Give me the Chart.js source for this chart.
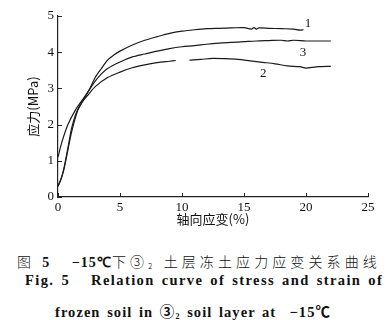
<!DOCTYPE html>
<html>
<head>
<meta charset="utf-8">
<script src="https://cdn.jsdelivr.net/npm/chart.js@4"></script>
<style>
  html, body { margin: 0; padding: 0; background: #fff; }
  #wrap { position: relative; width: 390px; height: 336px; overflow: hidden; }
  #chartBox { position: absolute; left: 0; top: 0; width: 390px; height: 230px; }
  .cap { position: absolute; left: 0; width: 390px; white-space: nowrap; color: #111;
         font-family: "Liberation Serif", "Noto Sans CJK SC", serif; }
  #cap1 { top: 251px; left: 17px; font-size: 14px; letter-spacing: 4.1px; font-family: "Noto Sans CJK SC", sans-serif; font-weight: 300; }
  #cap2 { top: 272px; left: 25px; font-size: 14.5px; font-weight: bold; letter-spacing: 1.4px; word-spacing: 2px; }
  #cap3 { top: 300px; left: 55px; font-size: 14.5px; font-weight: bold; letter-spacing: 1.05px; word-spacing: 2px; }
  b.n { font-family: "Liberation Serif", serif; font-weight: bold; letter-spacing: 1px; }
  sub { font-size: 8px; vertical-align: -2px; }
</style>
</head>
<body>
<div id="wrap">
  <div id="chartBox"><canvas id="chart" width="390" height="230"></canvas></div>
  <div class="cap" id="cap1">图 <b class="n">5</b>&nbsp;&nbsp;&nbsp;<b class="n">−15℃</b>下③<sub>2</sub> 土层冻土应力应变关系曲线</div>
  <div class="cap" id="cap2">Fig. 5&nbsp;&nbsp;&nbsp;Relation curve of stress and strain of</div>
  <div class="cap" id="cap3">frozen soil in ③<sub>2</sub> soil layer at &nbsp;−15℃</div>
</div>
<script>
// axis labels
const xTitle = '轴向应变(%)';
const yTitle = '应力(MPa)';
const xTicks = [0, 5, 10, 15, 20, 25];
const yTicks = [0, 1, 2, 3, 4, 5];

// curve 1 (top)
const strain1 = [0, 0.2, 0.45, 0.6, 0.85, 1.1, 1.5, 2, 2.5, 3, 3.5, 4, 4.5, 5, 6, 7, 8, 9, 10, 11, 12, 13, 14, 15, 15.6, 15.8, 16.0, 16.2, 17, 18, 19, 19.5, 19.8];
const stress1 = [0.3, 0.45, 0.75, 1.0, 1.45, 1.9, 2.35, 2.65, 2.95, 3.3, 3.55, 3.78, 3.92, 4.03, 4.2, 4.33, 4.43, 4.52, 4.58, 4.62, 4.65, 4.66, 4.67, 4.68, 4.64, 4.68, 4.64, 4.67, 4.66, 4.65, 4.64, 4.61, 4.62];

// curve 2 (bottom, with a gap near 10%)
const strain2 = [0, 0.3, 0.5, 0.8, 1.1, 1.6, 2, 2.5, 3, 4, 5, 6, 7, 8, 9, 9.5, 10, 10.6, 11.5, 12.5, 13.5, 14.5, 15.5, 16.5, 17.5, 18.5, 19.5, 20, 20.5, 21, 22];
const stress2 = [0.3, 0.55, 0.8, 1.3, 1.8, 2.4, 2.65, 2.85, 3.05, 3.3, 3.45, 3.57, 3.65, 3.71, 3.75, 3.77, null, 3.78, 3.8, 3.83, 3.82, 3.8, 3.76, 3.72, 3.68, 3.62, 3.6, 3.56, 3.58, 3.6, 3.61];

// curve 3 (middle)
const strain3 = [0, 0.3, 0.8, 1.4, 2, 2.5, 3, 3.5, 4, 5, 6, 7, 8, 9, 10, 11, 12, 13, 14, 15, 16, 17, 18, 18.5, 19, 20, 21, 22];
const stress3 = [1.1, 1.5, 2.0, 2.4, 2.7, 2.95, 3.2, 3.4, 3.55, 3.73, 3.87, 3.95, 4.03, 4.1, 4.15, 4.18, 4.22, 4.25, 4.27, 4.29, 4.31, 4.32, 4.33, 4.31, 4.33, 4.31, 4.31, 4.31];

// curve labels: [x, y, text]
const curveLabels = [[19.9, 4.78, '1'], [19.5, 4.0, '3'], [16.3, 3.42, '2']];

function pts(xs, ys) {
    return xs.map((x, i) => ({ x: x, y: ys[i] }));
}

const serif = '"Liberation Serif", "Times New Roman", serif';
const cjk = '"Noto Sans CJK SC", sans-serif';

// inward tick marks, curve numbers and axis titles
const extras = {
    id: 'extras',
    afterDraw(c) {
        const ctx = c.ctx;
        const xs = c.scales.x, ys = c.scales.y;
        ctx.save();
        ctx.strokeStyle = '#222';
        ctx.lineWidth = 1;
        xTicks.forEach(v => {
            const px = Math.round(xs.getPixelForValue(v)) + 0.5;
            ctx.beginPath();
            ctx.moveTo(px, ys.bottom);
            ctx.lineTo(px, ys.bottom - 4);
            ctx.stroke();
        });
        yTicks.forEach(v => {
            const py = Math.round(ys.getPixelForValue(v)) + 0.5;
            ctx.beginPath();
            ctx.moveTo(xs.left, py);
            ctx.lineTo(xs.left + 4, py);
            ctx.stroke();
        });
        ctx.fillStyle = '#111';
        ctx.font = '13px ' + serif;
        ctx.textAlign = 'left';
        ctx.textBaseline = 'middle';
        curveLabels.forEach(l => {
            ctx.fillText(l[2], xs.getPixelForValue(l[0]), ys.getPixelForValue(l[1]));
        });
        // axis titles
        ctx.font = '13px ' + cjk;
        ctx.textAlign = 'center';
        ctx.fillText(xTitle, (xs.left + xs.right) / 2, 219);
        ctx.translate(33, (ys.top + ys.bottom) / 2);
        ctx.rotate(-Math.PI / 2);
        ctx.fillText(yTitle, 0, 0);
        ctx.restore();
    }
};

const lineStyle = {
    borderColor: '#1a1a1a',
    borderWidth: 1.2,
    pointRadius: 0,
    tension: 0.3,
    fill: false,
    spanGaps: false
};

new Chart(document.getElementById('chart'), {
    type: 'line',
    data: {
        datasets: [
            Object.assign({ data: pts(strain1, stress1) }, lineStyle),
            Object.assign({ data: pts(strain2, stress2) }, lineStyle),
            Object.assign({ data: pts(strain3, stress3) }, lineStyle)
        ]
    },
    options: {
        responsive: false,
        animation: false,
        layout: { padding: { left: 0, right: 22, top: 16, bottom: 0 } },
        plugins: { legend: { display: false }, tooltip: { enabled: false } },
        scales: {
            x: {
                type: 'linear',
                min: 0, max: 25,
                afterBuildTicks: s => { s.ticks = xTicks.map(v => ({ value: v })); },
                afterFit: s => { s.height = 33; },
                grid: { display: false, drawTicks: false },
                border: { display: true, color: '#222', width: 1.2 },
                ticks: { color: '#111', padding: 3, font: { family: serif, size: 13 } }
            },
            y: {
                min: 0, max: 5,
                afterBuildTicks: s => { s.ticks = yTicks.map(v => ({ value: v })); },
                afterFit: s => { s.width = 58; },
                grid: { display: false, drawTicks: false },
                border: { display: true, color: '#222', width: 1.2 },
                ticks: { color: '#111', padding: 4, font: { family: serif, size: 13 } }
            }
        }
    },
    plugins: [extras]
});
</script>
</body>
</html>
